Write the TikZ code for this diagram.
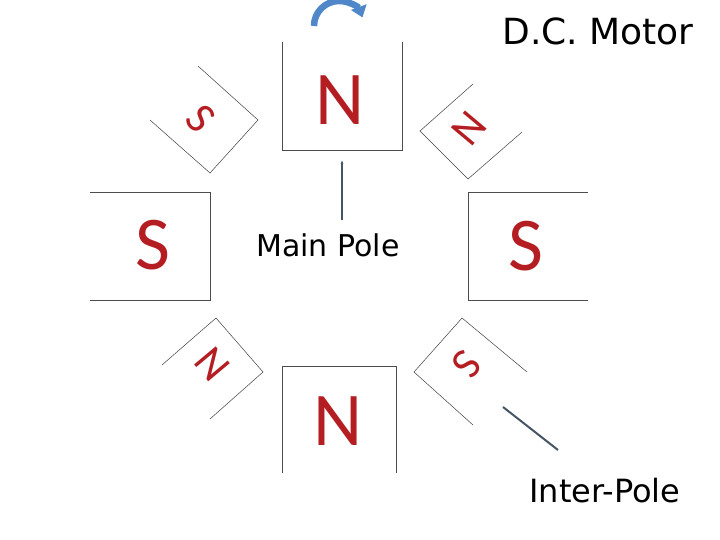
\documentclass[tikz,border=0pt]{standalone}
\usepackage{fontspec}
\usetikzlibrary{arrows.meta}
\setmainfont{Carlito}
\newfontfamily\labfont{DejaVu Sans}
\definecolor{polered}{RGB}{180,30,35}
\definecolor{arrowblue}{RGB}{79,135,200}
\definecolor{slate}{RGB}{70,85,100}
\begin{document}
\begin{tikzpicture}[x=1pt,y=-1pt,
  edge/.style={draw=black!70,line width=0.8pt},
  thin/.style={draw=black!75,line width=0.5pt},
  pole/.style={text=polered,font=\fontsize{76}{76}\selectfont,inner sep=0},
  ipole/.style={text=polered,font=\fontsize{44}{44}\selectfont,inner sep=0},
  lab/.style={font=\labfont\fontsize{30}{30}\selectfont,inner sep=0}]
\useasboundingbox (0,0) rectangle (720,540);
% main poles
\draw[edge] (282,42) -- (282,150) -- (402,150) -- (402,42);
\node[pole] (ntop) at (340,100) {N};
\draw[edge] (90,192) -- (210,192) -- (210,300) -- (90,300);
\node[pole] (sleft) at (153,245) {S};
\draw[edge] (588,192) -- (468,192) -- (468,300) -- (588,300);
\node[pole] (sright) at (526,246) {S};
\draw[edge] (282,473) -- (282,366) -- (396,366) -- (396,473);
\node[pole] (nbot) at (338,421) {N};
% interpoles
\draw[thin] (198,66) -- (258,120) -- (210,173) -- (150,120);
\node[ipole,rotate=-48] (iul) at (201,119) {S};
\draw[thin] (473,84) -- (420,131) -- (468,179) -- (522,132);
\node[ipole,rotate=-130] (iur) at (469,128) {N};
\draw[thin] (162,365) -- (216,318) -- (263,372) -- (210,419);
\node[ipole,rotate=-50] (ill) at (212,364) {N};
\draw[thin] (527,372) -- (462,318) -- (414,372) -- (473,425);
\node[ipole,rotate=-130] (ilr) at (467,364) {S};
% labels
\node[lab] (main) at (328,245) {Main Pole};
\coordinate (mtip) at (342,160);
\coordinate (mbase) at (342,220);
\draw[draw=slate,line width=1.3pt,-{Latex[length=4pt,width=3pt]}] (mbase) -- (mtip);
\node[lab,font=\labfont\fontsize{32}{32}\selectfont] (inter) at (605,491) {Inter-Pole};
\coordinate (ia) at (503,407);
\coordinate (ib) at (558,450);
\draw[draw=slate,line width=2pt] (ia) -- (ib);
\node[lab,font=\labfont\fontsize{36}{36}\selectfont] (title) at (598,31) {D.C. Motor};
% rotation arrow
\coordinate (ra) at (314,26);
\draw[draw=arrowblue,line width=6.5pt,-{Triangle[length=11pt,width=16pt]}] (ra) arc[start angle=180,end angle=340,radius=25];
\end{tikzpicture}
\end{document}
